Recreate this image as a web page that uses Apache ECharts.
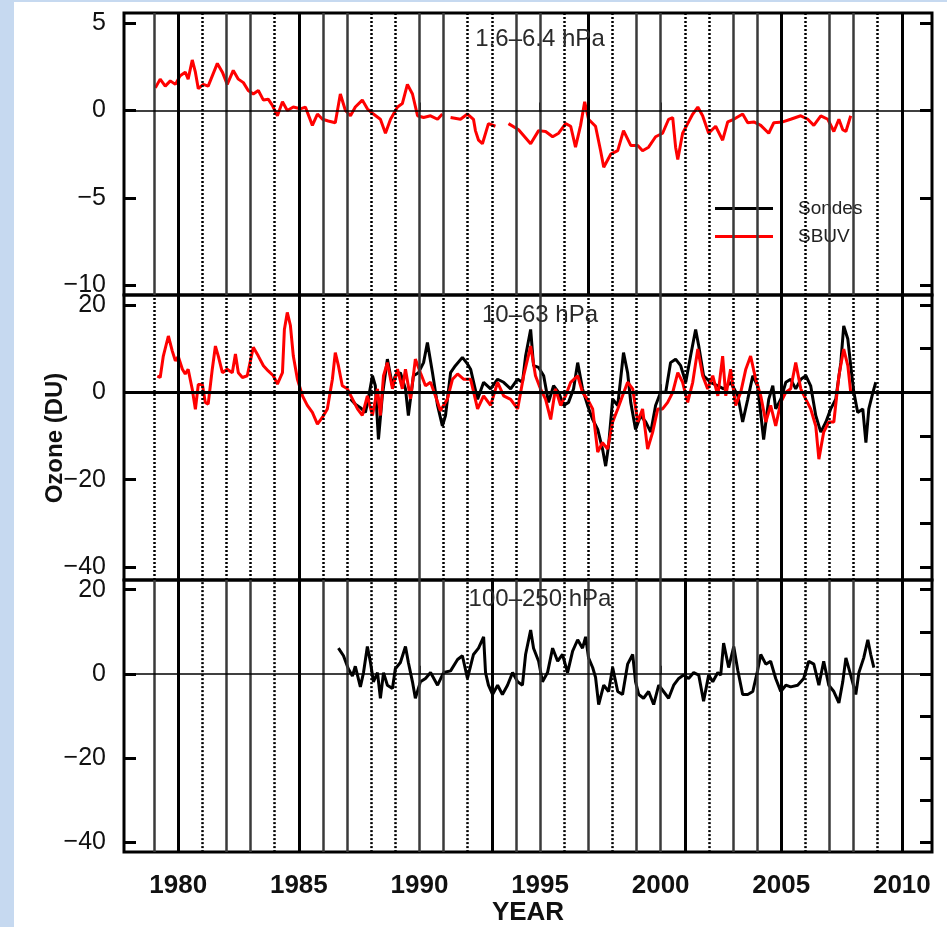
<!DOCTYPE html>
<html>
<head>
<meta charset="utf-8">
<script src="https://cdn.jsdelivr.net/npm/echarts@6.0.0/dist/echarts.min.js"></script>
<style>
  html, body { margin: 0; padding: 0; background: #c6d9f0; }
  #chart { position: absolute; left: 14px; top: 2px; width: 933px; height: 925px; background: #fff; }
</style>
</head>
<body>
<div id="chart"></div>
<script>
// year lines 1979..2010, one letter per year: s = solid, T = thick, d = dotted
var gridYears = [1979, 1980, 1981, 1982, 1983, 1984, 1985, 1986, 1987, 1988, 1989, 1990, 1991, 1992, 1993, 1994,
                 1995, 1996, 1997, 1998, 1999, 2000, 2001, 2002, 2003, 2004, 2005, 2006, 2007, 2008, 2009, 2010];
var lineKindUpper  = 'sTdssdTssddssddssdTdssddssTdssdT';
var lineKindMiddle = 'dTddddTddddsddddsddddsddddTddddT';
var lineKindLower  = 'sTdssdTssddssdTssdsdssTdssTdssdT';

var xTicks = [1980, 1985, 1990, 1995, 2000, 2005, 2010];
var yTicksUpper = [-10, -5, 0, 5];
var yTicksUpperRight = [-10, -5, 0, 5];
var yTicksLower = [-40, -20, 0, 20];
var yTicksLowerRight = [-40, -30, -20, -10, 0, 10, 20];

var panelTitles = ['1.6\u20136.4 hPa', '10\u201363 hPa', '100\u2013250 hPa'];

// 1.6-6.4 hPa, SBUV
var sbuvUpper = [
  [1979.05,1.3],[1979.25,1.8],[1979.46,1.4],[1979.67,1.7],[1979.88,1.5],[1980.08,2.0],[1980.29,2.2],[1980.41,1.8],
  [1980.58,2.9],[1980.71,2.2],[1980.83,1.25],[1981.04,1.5],[1981.24,1.4],[1981.62,2.7],[1981.83,2.2],[1982.03,1.5],
  [1982.28,2.3],[1982.49,1.8],[1982.70,1.6],[1982.90,1.15],[1983.11,0.95],[1983.32,1.15],[1983.53,0.6],[1983.73,0.65],
  [1983.90,0.3],[1984.11,-0.3],[1984.32,0.5],[1984.52,0.0],[1984.77,0.2],[1985.06,0.1],[1985.27,0.2],[1985.56,-0.85],
  [1985.77,-0.2],[1985.98,-0.5],[1986.22,-0.6],[1986.51,-0.7],[1986.72,0.95],[1986.93,0.0],[1987.14,-0.3],[1987.34,0.2],
  [1987.63,0.6],[1987.84,0.1],[1988.09,-0.2],[1988.38,-0.5],[1988.59,-1.3],[1988.80,-0.5],[1989.09,0.2],[1989.29,0.4],
  [1989.50,1.5],[1989.71,0.95],[1989.92,-0.3],[1990.17,-0.4],[1990.46,-0.3],[1990.75,-0.5],[1990.95,-0.2],[1991.1,'-'],
  [1991.29,-0.4],[1991.70,-0.5],[1991.99,-0.2],[1992.24,-0.5],[1992.32,-1.15],[1992.45,-1.7],[1992.61,-1.9],[1992.86,-0.75],
  [1993.15,-0.9],[1993.4,'-'],[1993.69,-0.75],[1994.11,-1.1],[1994.61,-1.9],[1994.94,-1.15],[1995.23,-1.2],[1995.52,-1.5],
  [1995.77,-1.3],[1996.06,-0.75],[1996.27,-0.9],[1996.47,-2.1],[1996.68,-0.85],[1996.85,0.5],[1997.01,-0.5],[1997.30,-0.9],
  [1997.51,-2.3],[1997.64,-3.25],[1997.93,-2.5],[1998.22,-2.3],[1998.46,-1.15],[1998.76,-2.0],[1999.05,-2.0],[1999.25,-2.3],
  [1999.50,-2.1],[1999.79,-1.5],[2000.08,-1.3],[2000.33,-0.5],[2000.50,-0.4],[2000.62,-2.1],[2000.71,-2.8],[2000.91,-1.3],
  [2001.12,-0.75],[2001.33,-0.2],[2001.54,0.2],[2001.74,-0.3],[2001.99,-1.3],[2002.28,-0.9],[2002.57,-1.7],[2002.78,-0.65],
  [2003.03,-0.5],[2003.40,-0.2],[2003.61,-0.7],[2003.86,-0.65],[2004.15,-0.85],[2004.48,-1.3],[2004.69,-0.7],[2005.06,-0.65],
  [2005.39,-0.5],[2005.81,-0.3],[2006.10,-0.5],[2006.35,-0.85],[2006.64,-0.3],[2006.93,-0.5],[2007.18,-1.2],[2007.39,-0.5],
  [2007.55,-1.1],[2007.68,-1.2],[2007.88,-0.3]
];

// 10-63 hPa, SBUV
var sbuvMiddle = [
  [1979.13,3.7],[1979.25,3.4],[1979.38,8.3],[1979.59,12.9],[1979.75,9.5],[1979.88,7.2],[1980.00,8.2],[1980.17,5.3],
  [1980.29,4.2],[1980.41,5.3],[1980.58,0.7],[1980.71,-3.9],[1980.83,1.8],[1981.00,1.8],[1981.12,-2.3],[1981.24,-2.7],
  [1981.41,5.3],[1981.54,10.6],[1981.66,8.3],[1981.83,4.5],[1982.03,5.3],[1982.24,4.5],[1982.37,8.8],[1982.49,4.5],
  [1982.66,3.4],[1982.86,3.8],[1983.11,10.3],[1983.32,8.3],[1983.53,6.1],[1983.73,4.9],[1983.94,3.8],[1984.11,1.9],
  [1984.32,4.5],[1984.40,14.4],[1984.52,18.3],[1984.65,15.3],[1984.77,8.3],[1984.94,3.0],[1985.15,-0.8],[1985.35,-3.0],
  [1985.56,-4.6],[1985.77,-7.3],[1985.98,-5.7],[1986.18,-3.8],[1986.39,3.0],[1986.51,9.1],[1986.64,6.1],[1986.80,1.5],
  [1987.01,0.8],[1987.22,-1.5],[1987.43,-3.8],[1987.63,-5.3],[1987.84,-0.8],[1988.05,-5.3],[1988.26,0.8],[1988.38,-5.3],
  [1988.51,3.8],[1988.67,6.8],[1988.88,0.8],[1989.09,5.3],[1989.29,0.8],[1989.42,5.3],[1989.63,-1.5],[1989.83,7.6],
  [1990.04,4.5],[1990.25,1.5],[1990.46,2.3],[1990.66,-0.8],[1990.87,-4.2],[1991.16,-1.5],[1991.37,3.0],[1991.58,4.2],
  [1991.83,3.0],[1992.12,3.0],[1992.41,-3.8],[1992.66,-0.8],[1992.95,-3.0],[1993.24,2.3],[1993.49,-0.8],[1993.78,-1.6],
  [1994.07,-3.8],[1994.32,3.8],[1994.61,10.6],[1994.81,3.8],[1995.02,0.8],[1995.23,-1.6],[1995.44,-6.2],[1995.64,0.8],
  [1995.85,-3.0],[1996.06,-0.8],[1996.27,2.3],[1996.56,3.8],[1996.76,0.0],[1996.97,-1.6],[1997.18,-3.8],[1997.39,-13.7],
  [1997.59,-11.5],[1997.80,-13.0],[1998.01,-6.8],[1998.22,-3.8],[1998.42,-0.8],[1998.63,2.3],[1998.84,0.8],[1999.05,-6.8],
  [1999.25,-3.8],[1999.46,-13.0],[1999.67,-9.1],[1999.88,-3.8],[2000.08,-3.8],[2000.29,-2.3],[2000.50,0.0],[2000.71,4.5],
  [2000.91,2.3],[2001.12,-2.3],[2001.33,2.3],[2001.54,9.9],[2001.74,3.8],[2001.95,0.8],[2002.16,3.8],[2002.37,-0.8],
  [2002.57,8.3],[2002.70,-0.8],[2002.90,5.3],[2003.11,-3.0],[2003.32,0.0],[2003.53,5.3],[2003.73,8.3],[2003.94,3.0],
  [2004.15,-0.8],[2004.36,-6.8],[2004.56,-3.0],[2004.77,-7.7],[2004.98,-2.3],[2005.19,0.0],[2005.39,0.8],[2005.60,6.8],
  [2005.81,0.8],[2006.02,-1.6],[2006.22,-3.8],[2006.43,-7.7],[2006.56,-15.3],[2006.76,-9.1],[2006.97,-6.8],[2007.18,-6.8],
  [2007.39,3.8],[2007.59,9.9],[2007.76,6.1],[2007.88,0.0]
];

// 10-63 hPa, sondes
var sondesMiddle = [
  [1987.14,-1.5],[1987.34,-2.7],[1987.55,-3.5],[1987.76,-4.6],[1987.88,-1.5],[1988.05,3.8],[1988.17,1.5],[1988.30,-10.8],
  [1988.46,-0.8],[1988.67,7.6],[1988.88,1.5],[1989.00,3.8],[1989.21,4.5],[1989.42,0.8],[1989.54,-5.3],[1989.75,3.8],
  [1989.96,4.5],[1990.17,6.8],[1990.33,11.4],[1990.54,4.5],[1990.75,-3.0],[1990.95,-7.7],[1991.08,-5.3],[1991.29,4.5],
  [1991.49,6.1],[1991.78,8.0],[1991.99,6.5],[1992.12,5.3],[1992.41,-1.6],[1992.66,2.3],[1992.95,0.8],[1993.24,3.0],
  [1993.49,2.3],[1993.78,0.8],[1994.07,3.0],[1994.27,2.3],[1994.40,8.3],[1994.61,14.4],[1994.73,6.1],[1994.94,5.7],
  [1995.15,3.8],[1995.35,-2.3],[1995.56,1.5],[1995.77,0.0],[1995.98,-3.0],[1996.18,-2.3],[1996.39,0.8],[1996.56,6.8],
  [1996.76,0.8],[1996.97,-3.0],[1997.18,-6.2],[1997.39,-8.5],[1997.59,-13.0],[1997.72,-16.9],[1997.84,-12.2],[1998.01,-1.6],
  [1998.22,-3.0],[1998.34,3.0],[1998.46,9.1],[1998.63,4.5],[1998.76,-2.3],[1998.96,-8.5],[1999.17,-5.3],[1999.38,-6.8],
  [1999.59,-9.1],[1999.79,-3.0],[2000.00,0.0],[2000.21,0.0],[2000.41,6.8],[2000.62,7.6],[2000.83,6.1],[2001.04,2.3],
  [2001.24,8.3],[2001.45,14.4],[2001.58,10.6],[2001.78,3.8],[2002.07,2.3],[2002.37,1.5],[2002.61,0.8],[2002.90,2.3],
  [2003.20,-0.8],[2003.40,-6.8],[2003.61,-1.6],[2003.82,3.8],[2004.02,1.5],[2004.27,-10.8],[2004.48,-1.6],[2004.65,1.5],
  [2004.77,-3.8],[2004.98,-1.6],[2005.19,2.3],[2005.39,3.0],[2005.60,0.8],[2005.81,3.0],[2006.02,3.8],[2006.22,1.5],
  [2006.43,-5.3],[2006.64,-9.1],[2006.85,-6.8],[2007.05,-3.8],[2007.26,-1.6],[2007.47,6.8],[2007.59,15.2],[2007.76,12.2],
  [2007.88,6.1],[2008.01,0.0],[2008.17,-4.6],[2008.38,-3.8],[2008.51,-11.5],[2008.63,-3.8],[2008.80,0.0],[2008.92,2.3]
];

// 100-250 hPa, sondes
var sondesLower = [
  [1986.64,6.1],[1986.85,4.3],[1987.05,1.2],[1987.22,-0.5],[1987.34,1.8],[1987.55,-3.1],[1987.68,0.3],[1987.84,6.5],
  [1987.97,2.7],[1988.09,-1.9],[1988.26,0.3],[1988.38,-5.8],[1988.51,0.3],[1988.67,-2.7],[1988.88,-3.5],[1989.00,1.2],
  [1989.21,2.7],[1989.42,6.5],[1989.54,2.7],[1989.71,-1.9],[1989.83,-5.8],[1990.04,-1.9],[1990.25,-1.1],[1990.46,0.3],
  [1990.75,-2.7],[1991.00,0.3],[1991.29,0.7],[1991.58,3.4],[1991.78,4.3],[1991.99,-1.1],[1992.24,4.6],[1992.45,6.1],
  [1992.66,8.8],[1992.74,0.3],[1992.86,-2.7],[1993.03,-4.9],[1993.24,-2.7],[1993.44,-4.9],[1993.65,-2.7],[1993.86,0.3],
  [1994.07,-1.9],[1994.27,-2.7],[1994.40,4.6],[1994.61,10.4],[1994.73,6.1],[1994.94,3.0],[1995.10,-1.9],[1995.31,0.3],
  [1995.52,6.1],[1995.73,3.0],[1995.93,4.6],[1996.14,0.3],[1996.35,5.4],[1996.56,8.1],[1996.76,6.1],[1996.89,8.8],
  [1997.01,3.8],[1997.18,1.5],[1997.30,-0.8],[1997.43,-7.3],[1997.64,-2.7],[1997.84,-4.2],[1998.01,1.5],[1998.22,-4.2],
  [1998.42,-4.9],[1998.63,2.3],[1998.84,4.6],[1998.96,-1.9],[1999.09,-4.9],[1999.29,-5.8],[1999.50,-4.2],[1999.71,-7.3],
  [1999.92,-2.7],[2000.12,-4.2],[2000.33,-5.8],[2000.54,-2.7],[2000.75,-1.1],[2000.95,-0.3],[2001.16,-1.1],[2001.37,0.3],
  [2001.58,-0.3],[2001.78,-6.5],[2001.99,-0.3],[2002.16,-1.9],[2002.37,0.3],[2002.49,-0.3],[2002.61,7.3],[2002.82,1.5],
  [2003.03,6.5],[2003.20,0.8],[2003.40,-4.9],[2003.61,-4.9],[2003.82,-4.2],[2004.02,0.8],[2004.15,4.6],[2004.36,2.3],
  [2004.56,3.0],[2004.77,-1.1],[2004.98,-4.2],[2005.19,-2.7],[2005.39,-3.1],[2005.68,-2.7],[2005.93,-1.1],[2006.14,3.0],
  [2006.35,2.3],[2006.56,-2.7],[2006.76,3.0],[2006.97,-2.7],[2007.18,-4.2],[2007.39,-6.9],[2007.55,-1.9],[2007.68,3.8],
  [2007.88,-0.3],[2008.09,-4.9],[2008.22,0.3],[2008.42,3.8],[2008.59,8.1],[2008.71,4.6],[2008.84,1.5]
];

var FONT = 'Liberation Sans, Arial, sans-serif';
var chart = echarts.init(document.getElementById('chart'));

function minus(v) { return String(v).replace('-', '\u2212'); }

function yearLineStyle(kind) {
    if (kind === 'T') return { type: 'solid', width: 3, color: '#000' };
    if (kind === 'd') return { type: [2, 2], width: 2.5, color: '#000' };
    return { type: 'solid', width: 2.5, color: '#3a3a3a' };
}

function gridLines(gi, kinds, zeroWidth) {
    var data = gridYears.map(function (y, k) {
        return { xAxis: y, lineStyle: yearLineStyle(kinds.charAt(k)) };
    });
    data.push({ yAxis: 0, lineStyle: { type: 'solid', width: zeroWidth, color: '#000' } });
    return {
        type: 'line', xAxisIndex: gi, yAxisIndex: gi * 2, data: [], z: 1, silent: true,
        markLine: { symbol: ['none', 'none'], silent: true, label: { show: false }, animation: false, data: data }
    };
}

function dataLine(name, gi, data, color) {
    return {
        name: name, type: 'line', xAxisIndex: gi, yAxisIndex: gi * 2, data: data, z: 3,
        symbol: 'none', connectNulls: false,
        itemStyle: { color: color }, lineStyle: { color: color, width: 3 }
    };
}

var grids = [
    { left: 110, right: 15, top: 11, height: 282 },
    { left: 110, right: 15, top: 293, height: 285 },
    { left: 110, right: 15, top: 578, height: 282 }
];
grids.forEach(function (g) { g.show = true; g.borderColor = '#000'; g.borderWidth = 3; });

var yRanges = [[-10.57, 5.59], [-42.98, 22.29], [-42.36, 22.3]];
var yLeftTicks = [yTicksUpper, yTicksLower, yTicksLower];
var yRightTicks = [yTicksUpperRight, yTicksLowerRight, yTicksLowerRight];

var xAxes = [0, 1, 2].map(function (i) {
    return {
        type: 'value', gridIndex: i, min: 1977.75, max: 2011.25,
        axisLine: { show: false }, splitLine: { show: false },
        axisTick: { show: true, inside: true, length: 8, customValues: xTicks, lineStyle: { color: '#000', width: 2 } },
        axisLabel: {
            show: i === 2, customValues: xTicks, margin: 21, fontSize: 26, fontWeight: 'bold', color: '#111', fontFamily: FONT,
            formatter: function (v) { return String(v); }
        },
        name: i === 2 ? 'YEAR' : '', nameLocation: 'middle', nameGap: 43,
        nameTextStyle: { fontSize: 26, fontWeight: 'bold', color: '#111', fontFamily: FONT }
    };
});

var yAxes = [];
[0, 1, 2].forEach(function (i) {
    yAxes.push({
        type: 'value', gridIndex: i, position: 'left', min: yRanges[i][0], max: yRanges[i][1],
        axisLine: { show: false }, splitLine: { show: false },
        axisTick: { show: true, inside: true, length: 12, customValues: yLeftTicks[i], lineStyle: { color: '#000', width: 3 } },
        axisLabel: { customValues: yLeftTicks[i], margin: 18, fontSize: 25, color: '#111', fontFamily: FONT, formatter: minus }
    });
    yAxes.push({
        type: 'value', gridIndex: i, position: 'right', min: yRanges[i][0], max: yRanges[i][1],
        axisLine: { show: false }, splitLine: { show: false },
        axisTick: { show: true, inside: true, length: 12, customValues: yRightTicks[i], lineStyle: { color: '#000', width: 3 } },
        axisLabel: { show: false }
    });
});

var titleY = [37, 313, 597];

var option = {
    animation: false,
    backgroundColor: '#fff',
    grid: grids,
    xAxis: xAxes,
    yAxis: yAxes,
    legend: {
        data: ['Sondes', 'SBUV'], orient: 'vertical', left: 696, top: 192,
        icon: 'rect', itemWidth: 58, itemHeight: 3, itemGap: 9,
        textStyle: { fontSize: 19, color: '#222', fontFamily: FONT, padding: [0, 0, 0, 20] }
    },
    graphic: panelTitles.map(function (t, i) {
        return {
            type: 'text', x: 526, y: titleY[i], z: 10,
            style: { text: t, align: 'center', verticalAlign: 'middle', fontSize: 24, fill: '#2a2a2a', fontFamily: FONT }
        };
    }).concat([{
        type: 'text', x: 41, y: 436, rotation: Math.PI / 2, z: 10,
        style: { text: 'Ozone (DU)', align: 'center', verticalAlign: 'middle', fontSize: 24, fontWeight: 'bold', fill: '#111', fontFamily: FONT }
    }]),
    series: [
        gridLines(0, lineKindUpper, 1.5),
        gridLines(1, lineKindMiddle, 3),
        gridLines(2, lineKindLower, 1.5),
        dataLine('SBUV', 0, sbuvUpper, '#ff0000'),
        dataLine('Sondes', 1, sondesMiddle, '#000000'),
        dataLine('SBUV', 1, sbuvMiddle, '#ff0000'),
        dataLine('Sondes', 2, sondesLower, '#000000')
    ]
};

chart.setOption(option);
window.addEventListener('resize', chart.resize);
</script>
</body>
</html>
